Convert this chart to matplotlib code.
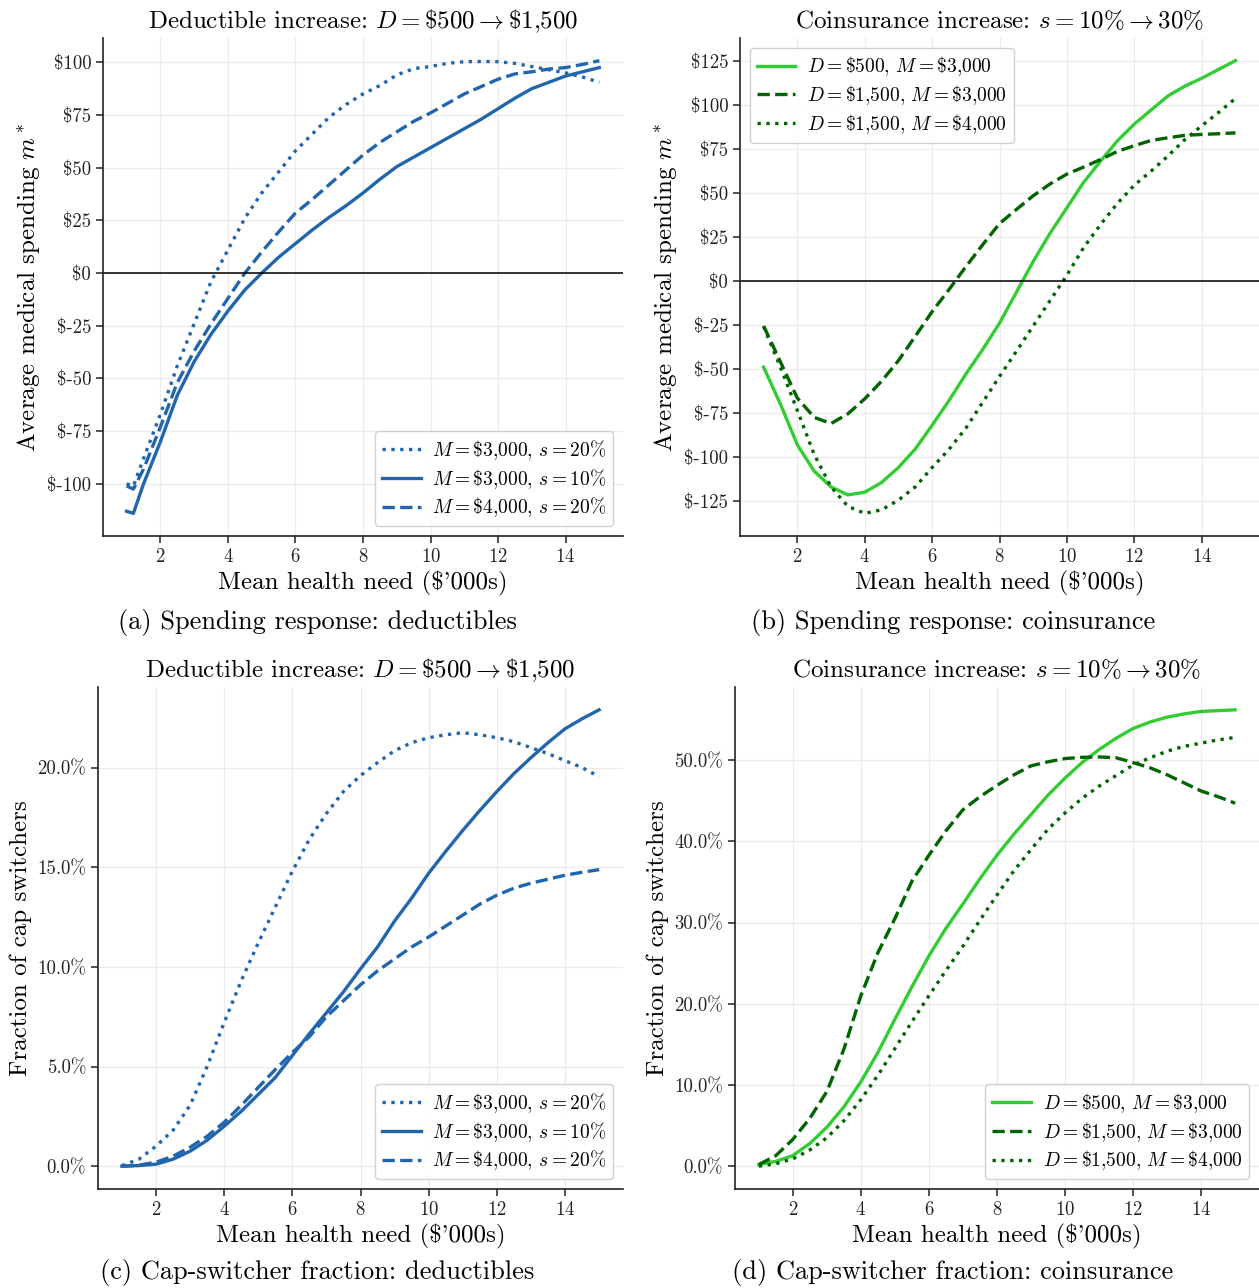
import numpy as np
import matplotlib
matplotlib.use('Agg')
import matplotlib.pyplot as plt
from matplotlib.ticker import FuncFormatter

plt.rcParams['font.family'] = ['cmr10', 'DejaVu Serif']
plt.rcParams['mathtext.fontset'] = 'cm'
plt.rcParams['axes.formatter.use_mathtext'] = True

W, H = 1259, 1288

# mean health need ($'000s)
need_a = [1, 1.2, 1.5, 2, 2.5, 3, 3.5, 4, 4.5, 5, 5.5, 6, 6.5, 7, 7.5, 8, 8.5,
          9, 9.5, 10, 10.5, 11, 11.5, 12, 12.5, 13, 13.5, 14, 14.5, 15]
need = [1, 1.5, 2, 2.5, 3, 3.5, 4, 4.5, 5, 5.5, 6, 6.5, 7, 7.5, 8, 8.5,
        9, 9.5, 10, 10.5, 11, 11.5, 12, 12.5, 13, 13.5, 14, 14.5, 15]

# (a) spending response, deductible increase
a_m3000_s20 = [-100, -101, -88, -67, -44, -24, -4, 11, 26, 38, 48, 58, 66, 74, 80,
               85, 89, 94, 97, 98, 99.5, 100.3, 100.4, 100.3, 99.5, 98, 96.5, 95, 93, 90.5]
a_m3000_s10 = [-113, -114, -100, -80, -58, -42, -29, -18, -8, 0, 7.5, 14, 20.5, 26.5, 32,
               38, 44.5, 50.5, 55, 59.5, 64, 68.5, 73, 78, 83, 87.5, 90.5, 93.5, 95.5, 97.5]
a_m4000_s20 = [-101, -102.5, -93, -73, -52, -37, -24, -12, 0, 10, 19.5, 28.5, 35, 42, 49,
               56, 62, 67, 72, 76, 80.5, 85, 88.5, 92, 94.5, 95.5, 96.8, 97.5, 99, 100.8]

# (b) spending response, coinsurance increase
b_d500_m3000 = [-49, -70, -93, -108, -117, -121.5, -120, -114.5, -106, -95.5, -82, -68,
                -53, -39, -24, -6.5, 11, 27, 41.5, 56, 68, 79.5, 89, 97, 105, 110.5,
                115, 120, 125]
b_d1500_m3000 = [-25.6, -46, -66.5, -77.5, -81, -75.5, -67, -57, -45.3, -31.5, -17.5,
                 -5, 8, 20.5, 32.5, 40.5, 48.3, 55, 60.6, 64.6, 68.9, 73.5, 76.7, 79.7,
                 81.2, 82.6, 83.1, 83.5, 84]
b_d1500_m4000 = [-26, -49, -73.5, -98.5, -117, -128, -132, -130, -124.5, -117, -106,
                 -95.7, -83.7, -69, -54.3, -40, -25.6, -11.2, 3.2, 19, 32, 44, 54.3,
                 62.3, 70.9, 80.2, 88, 95.6, 103.5]

# (c) cap-switcher fraction (%), deductible increase
c_m3000_s20 = [0.03, 0.35, 1.0, 1.8, 3.05, 5.0, 7.2, 9.3, 11.2, 13.0, 14.8, 16.4, 17.7,
               18.8, 19.6, 20.25, 20.85, 21.25, 21.5, 21.65, 21.75, 21.65, 21.5, 21.3,
               21.0, 20.7, 20.35, 20.0, 19.55]
c_m3000_s10 = [0, 0.03, 0.1, 0.35, 0.75, 1.3, 2.0, 2.75, 3.6, 4.45, 5.55, 6.65, 7.7, 8.75,
               9.9, 11.0, 12.3, 13.45, 14.7, 15.8, 16.85, 17.85, 18.8, 19.7, 20.5, 21.25,
               21.95, 22.45, 22.9]
c_m4000_s20 = [0, 0.05, 0.2, 0.5, 0.95, 1.5, 2.2, 3.05, 3.95, 4.85, 5.7, 6.5, 7.5, 8.3,
               9.1, 9.8, 10.4, 11.0, 11.5, 12.05, 12.6, 13.15, 13.6, 13.95, 14.2, 14.4,
               14.6, 14.75, 14.88]

# (d) cap-switcher fraction (%), coinsurance increase
d_d500_m3000 = [0.2, 0.6, 1.3, 2.8, 4.8, 7.3, 10.4, 14.0, 18.1, 22.1, 25.9, 29.3, 32.3,
                35.4, 38.3, 40.9, 43.3, 45.7, 47.8, 49.7, 51.3, 52.7, 53.9, 54.7, 55.3,
                55.7, 56.0, 56.1, 56.2]
d_d1500_m3000 = [0.2, 1.3, 3.3, 5.9, 9.2, 14.4, 21.0, 26.3, 30.5, 35.1, 38.3, 41.3, 43.9,
                 45.5, 46.9, 48.2, 49.3, 49.8, 50.2, 50.35, 50.4, 50.3, 49.7, 49.06, 48.2,
                 47.2, 46.2, 45.5, 44.7]
d_d1500_m4000 = [0, 0.3, 0.9, 2.0, 3.5, 5.6, 8.2, 11.2, 14.5, 17.8, 21.0, 24.1, 27.1,
                 30.3, 33.4, 36.4, 39.0, 41.5, 43.5, 45.3, 46.8, 48.1, 49.4, 50.3, 51.1,
                 51.7, 52.1, 52.5, 52.8]

blue = '#2166ac'
lgreen = '#32cd32'
dgreen = '#006400'

title_ded = r'Deductible increase: $D = \$500 \rightarrow \$1{,}500$'
title_coi = r'Coinsurance increase: $s = 10\% \rightarrow 30\%$'
xlab = "Mean health need (\\$'000s)"

fig = plt.figure(figsize=(W / 100, H / 100), dpi=100)


def make_ax(l, t, r, b):
    ax = fig.add_axes([l / W, 1 - b / H, (r - l) / W, (b - t) / H])
    for s in ['top', 'right']:
        ax.spines[s].set_visible(False)
    for s in ['left', 'bottom']:
        ax.spines[s].set_linewidth(1.2)
        ax.spines[s].set_color('#222222')
    ax.grid(True, color='#ebebeb', linewidth=0.9)
    ax.set_axisbelow(True)
    ax.set_xticks([2, 4, 6, 8, 10, 12, 14])
    ax.tick_params(labelsize=13.5, length=5, width=1.1, colors='#222222')
    ax.set_xlabel(xlab, fontsize=18, labelpad=4)
    return ax


def add_legend(ax, loc):
    ax.legend(loc=loc, fontsize=14, framealpha=0.9, labelspacing=0.25,
              handletextpad=0.6, borderpad=0.35)


dollar = FuncFormatter(lambda v, p: '\\$%d' % v)
pct = FuncFormatter(lambda v, p: '%.1f%%' % v)
lw = 2.4

# (a)
ax = make_ax(103, 38, 623, 536)
ax.plot(need_a, a_m3000_s20, ':', color=blue, lw=lw, label=r'$M = \$3{,}000$, $s = 20\%$')
ax.plot(need_a, a_m3000_s10, '-', color=blue, lw=lw, label=r'$M = \$3{,}000$, $s = 10\%$')
ax.plot(need_a, a_m4000_s20, '--', color=blue, lw=lw, label=r'$M = \$4{,}000$, $s = 20\%$')
ax.axhline(0, color='black', lw=1.1)
ax.set_yticks([-100, -75, -50, -25, 0, 25, 50, 75, 100])
ax.yaxis.set_major_formatter(dollar)
ax.set_ylabel(r'Average medical spending $m^*$', fontsize=18)
ax.set_title(title_ded, fontsize=18, pad=7)
add_legend(ax, 'lower right')

# (b)
ax = make_ax(740, 38, 1259, 536)
ax.plot(need, b_d500_m3000, '-', color=lgreen, lw=lw, label=r'$D = \$500$, $M = \$3{,}000$')
ax.plot(need, b_d1500_m3000, '--', color=dgreen, lw=lw, label=r'$D = \$1{,}500$, $M = \$3{,}000$')
ax.plot(need, b_d1500_m4000, ':', color=dgreen, lw=lw, label=r'$D = \$1{,}500$, $M = \$4{,}000$')
ax.axhline(0, color='black', lw=1.1)
ax.set_yticks([-125, -100, -75, -50, -25, 0, 25, 50, 75, 100, 125])
ax.yaxis.set_major_formatter(dollar)
ax.set_ylabel(r'Average medical spending $m^*$', fontsize=18)
ax.set_title(title_coi, fontsize=18, pad=7)
add_legend(ax, 'upper left')

# (c)
ax = make_ax(98, 687, 623, 1189)
ax.plot(need, c_m3000_s20, ':', color=blue, lw=lw, label=r'$M = \$3{,}000$, $s = 20\%$')
ax.plot(need, c_m3000_s10, '-', color=blue, lw=lw, label=r'$M = \$3{,}000$, $s = 10\%$')
ax.plot(need, c_m4000_s20, '--', color=blue, lw=lw, label=r'$M = \$4{,}000$, $s = 20\%$')
ax.set_yticks([0, 5, 10, 15, 20])
ax.yaxis.set_major_formatter(pct)
ax.set_ylabel('Fraction of cap switchers', fontsize=18)
ax.set_title(title_ded, fontsize=18, pad=7)
add_legend(ax, 'lower right')

# (d)
ax = make_ax(735, 687, 1259, 1189)
ax.plot(need, d_d500_m3000, '-', color=lgreen, lw=lw, label=r'$D = \$500$, $M = \$3{,}000$')
ax.plot(need, d_d1500_m3000, '--', color=dgreen, lw=lw, label=r'$D = \$1{,}500$, $M = \$3{,}000$')
ax.plot(need, d_d1500_m4000, ':', color=dgreen, lw=lw, label=r'$D = \$1{,}500$, $M = \$4{,}000$')
ax.set_yticks([0, 10, 20, 30, 40, 50])
ax.yaxis.set_major_formatter(pct)
ax.set_ylabel('Fraction of cap switchers', fontsize=18)
ax.set_title(title_coi, fontsize=18, pad=7)
add_legend(ax, 'lower right')

# sub-figure captions
caps = [(317, 622, '(a) Spending response: deductibles'),
        (953, 622, '(b) Spending response: coinsurance'),
        (317, 1272, '(c) Cap-switcher fraction: deductibles'),
        (953, 1272, '(d) Cap-switcher fraction: coinsurance')]
for cx, cy, txt in caps:
    fig.text(cx / W, 1 - cy / H, txt, fontsize=19, ha='center', va='center')

fig.savefig('out.png', dpi=100)
